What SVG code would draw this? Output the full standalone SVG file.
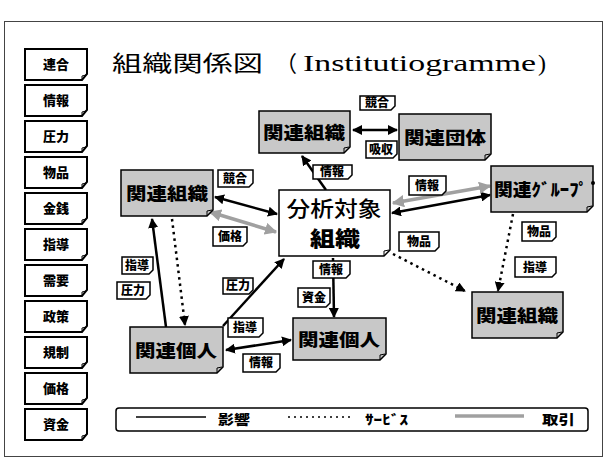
<svg xmlns="http://www.w3.org/2000/svg" width="608" height="460" viewBox="0 0 608 460">
<style>
.frame{fill:#fff;stroke:#444;stroke-width:1}
.tag{fill:#fff;stroke:#000;stroke-width:2}
.tagt{font-family:"Noto Sans CJK JP",sans-serif;font-weight:900;font-size:13px;text-anchor:middle;fill:#000}
.lab{fill:#fff;stroke:#000;stroke-width:1.5}
.labt{font-family:"Noto Sans CJK JP",sans-serif;font-weight:900;font-size:12px;text-anchor:middle;fill:#000}
.legt{font-family:"Noto Sans CJK JP",sans-serif;font-weight:900;font-size:13px;fill:#000}
.node{fill:#c8c8c8;stroke:#000;stroke-width:1.5}
.nodew{fill:#fff;stroke:#000;stroke-width:1.5}
.nt{font-family:"Noto Sans CJK JP",sans-serif;font-weight:900;font-size:17px;text-anchor:middle;fill:#000}
.curl{fill:none;stroke:#000;stroke-width:1}
.inf{fill:none;stroke:#000;stroke-width:2.5}
.svc{fill:none;stroke:#000;stroke-width:2.5;stroke-dasharray:2.5 4}
.trd{fill:none;stroke:#a0a0a0;stroke-width:3.5}
</style>
<defs>
<marker id="ab" viewBox="0 0 10 10" refX="9" refY="5" markerWidth="4" markerHeight="4" orient="auto-start-reverse" markerUnits="strokeWidth"><path d="M0,0 L10,5 L0,10 Z" fill="#000"/></marker>
<marker id="ag" viewBox="0 0 10 10" refX="9" refY="5" markerWidth="3.5" markerHeight="3.5" orient="auto-start-reverse" markerUnits="strokeWidth"><path d="M0,0 L10,5 L0,10 Z" fill="#a0a0a0"/></marker>
</defs>
<rect class="frame" x="4.5" y="21.5" width="598" height="435"/>

<text x="112" y="71" font-family="Noto Sans CJK JP,sans-serif" font-size="22" textLength="151" lengthAdjust="spacingAndGlyphs">組織関係図</text>
<text x="275" y="71" font-family="Noto Sans CJK JP,sans-serif" font-size="22">（</text>
<text x="303" y="71" font-family="Liberation Serif,serif" font-size="24" textLength="233" lengthAdjust="spacingAndGlyphs">Institutiogramme</text>
<text x="538" y="71" font-family="Liberation Serif,serif" font-size="24">)</text>

<g id="side-tags">
<g id="t1"><path class="tag" d="M25,49 H87 V74 L82,80 H25 Z"/><path class="curl" d="M82,80 L82,76 L86,75"/><text class="tagt" x="56" y="69">連合</text></g>
<g id="t2"><path class="tag" d="M25,85 H87 V110 L82,116 H25 Z"/><path class="curl" d="M82,116 L82,112 L86,111"/><text class="tagt" x="56" y="105">情報</text></g>
<g id="t3"><path class="tag" d="M25,121 H87 V146 L82,152 H25 Z"/><path class="curl" d="M82,152 L82,148 L86,147"/><text class="tagt" x="56" y="141">圧力</text></g>
<g id="t4"><path class="tag" d="M25,157 H87 V182 L82,188 H25 Z"/><path class="curl" d="M82,188 L82,184 L86,183"/><text class="tagt" x="56" y="177">物品</text></g>
<g id="t5"><path class="tag" d="M25,193 H87 V218 L82,224 H25 Z"/><path class="curl" d="M82,224 L82,220 L86,219"/><text class="tagt" x="56" y="213">金銭</text></g>
<g id="t6"><path class="tag" d="M25,229 H87 V254 L82,260 H25 Z"/><path class="curl" d="M82,260 L82,256 L86,255"/><text class="tagt" x="56" y="249">指導</text></g>
<g id="t7"><path class="tag" d="M25,265 H87 V290 L82,296 H25 Z"/><path class="curl" d="M82,296 L82,292 L86,291"/><text class="tagt" x="56" y="285">需要</text></g>
<g id="t8"><path class="tag" d="M25,301 H87 V326 L82,332 H25 Z"/><path class="curl" d="M82,332 L82,328 L86,327"/><text class="tagt" x="56" y="321">政策</text></g>
<g id="t9"><path class="tag" d="M25,337 H87 V362 L82,368 H25 Z"/><path class="curl" d="M82,368 L82,364 L86,363"/><text class="tagt" x="56" y="357">規制</text></g>
<g id="t10"><path class="tag" d="M25,373 H87 V398 L82,404 H25 Z"/><path class="curl" d="M82,404 L82,400 L86,399"/><text class="tagt" x="56" y="393">価格</text></g>
<g id="t11"><path class="tag" d="M25,409 H87 V434 L82,440 H25 Z"/><path class="curl" d="M82,440 L82,436 L86,435"/><text class="tagt" x="56" y="429">資金</text></g>
</g>

<g id="connectors">
<line class="inf" x1="353" y1="130" x2="397" y2="130" marker-start="url(#ab)" marker-end="url(#ab)"/>
<line class="inf" x1="326" y1="190" x2="302" y2="156" marker-end="url(#ab)"/>
<line class="inf" x1="277" y1="214" x2="215" y2="197" marker-start="url(#ab)" marker-end="url(#ab)"/>
<line class="trd" x1="276" y1="232" x2="210" y2="212" marker-start="url(#ag)" marker-end="url(#ag)"/>
<line class="svc" x1="172" y1="219" x2="185" y2="325" marker-end="url(#ab)"/>
<line class="inf" x1="166" y1="327" x2="152" y2="219" marker-end="url(#ab)"/>
<line class="inf" x1="223" y1="326" x2="284" y2="259" marker-end="url(#ab)"/>
<line class="inf" x1="226" y1="350" x2="291" y2="340" marker-start="url(#ab)" marker-end="url(#ab)"/>
<line class="inf" x1="333" y1="258" x2="334" y2="317" marker-end="url(#ab)"/>
<line class="inf" x1="392" y1="213" x2="490" y2="195" marker-start="url(#ab)" marker-end="url(#ab)"/>
<line class="trd" x1="393" y1="203" x2="490" y2="186" marker-start="url(#ag)" marker-end="url(#ag)"/>
<line class="svc" x1="393" y1="254" x2="465" y2="291" marker-end="url(#ab)"/>
<line class="svc" x1="513" y1="214" x2="498" y2="291" marker-end="url(#ab)"/>
</g>

<g id="labels">
<g><path class="lab" d="M360,96 H395 V106 L391,110 H360 Z"/><text class="labt" x="377" y="107">競合</text></g>
<g><path class="lab" d="M366,141 H397 V154 L393,158 H366 Z"/><text class="labt" x="381" y="154">吸収</text></g>
<g><path class="lab" d="M313,165 H352 V175 L348,179 H313 Z"/><text class="labt" x="332" y="176">情報</text></g>
<g><path class="lab" d="M218,170 H253 V183 L249,187 H218 Z"/><text class="labt" x="235" y="183">競合</text></g>
<g><path class="lab" d="M213,227 H247 V242 L243,246 H213 Z"/><text class="labt" x="230" y="241">価格</text></g>
<g><path class="lab" d="M122,257 H153 V270 L149,274 H122 Z"/><text class="labt" x="137" y="270">指導</text></g>
<g><path class="lab" d="M117,282 H150 V295 L146,299 H117 Z"/><text class="labt" x="133" y="295">圧力</text></g>
<g><path class="lab" d="M223,278 H253 V290 L249,294 H223 Z"/><text class="labt" x="238" y="290">圧力</text></g>
<g><path class="lab" d="M228,318 H263 V333 L259,337 H228 Z"/><text class="labt" x="245" y="332">指導</text></g>
<g><path class="lab" d="M243,354 H280 V368 L276,372 H243 Z"/><text class="labt" x="261" y="367">情報</text></g>
<g><path class="lab" d="M313,261 H350 V274 L346,278 H313 Z"/><text class="labt" x="331" y="274">情報</text></g>
<g><path class="lab" d="M298,288 H330 V303 L326,307 H298 Z"/><text class="labt" x="314" y="302">資金</text></g>
<g><path class="lab" d="M409,176 H446 V191 L442,195 H409 Z"/><text class="labt" x="427" y="190">情報</text></g>
<g><path class="lab" d="M399,232 H439 V247 L435,251 H399 Z"/><text class="labt" x="419" y="246">物品</text></g>
<g><path class="lab" d="M522,222 H556 V237 L552,241 H522 Z"/><text class="labt" x="539" y="236">物品</text></g>
<g><path class="lab" d="M515,257 H556 V273 L552,277 H515 Z"/><text class="labt" x="535" y="272">指導</text></g>
</g>

<g id="n-top-org"><path class="node" d="M259,111 H350 V147 L344,153 H259 Z"/><path class="curl" d="M344,153 L344,148 L349,147"/><text class="nt" x="304" y="139" textLength="82" lengthAdjust="spacingAndGlyphs">関連組織</text></g>
<g id="n-dantai"><path class="node" d="M399,114 H491 V154 L485,160 H399 Z"/><path class="curl" d="M485,160 L485,155 L490,154"/><text class="nt" x="445" y="144" textLength="82" lengthAdjust="spacingAndGlyphs">関連団体</text></g>
<g id="n-left-org"><path class="node" d="M121,170 H213 V210 L207,216 H121 Z"/><path class="curl" d="M207,216 L207,211 L212,210"/><text class="nt" x="167" y="200" textLength="82" lengthAdjust="spacingAndGlyphs">関連組織</text></g>
<g id="n-center"><path class="nodew" d="M279,190 H390 V250 L384,256 H279 Z"/><path class="curl" d="M384,256 L384,251 L389,250"/><text x="334" y="216" font-family="Noto Sans CJK JP,sans-serif" font-size="21" font-weight="500" text-anchor="middle" textLength="95" lengthAdjust="spacingAndGlyphs">分析対象</text><text x="335" y="246" font-family="Noto Sans CJK JP,sans-serif" font-size="21" font-weight="900" text-anchor="middle" textLength="50" lengthAdjust="spacingAndGlyphs">組織</text></g>
<g id="n-group"><path class="node" d="M491,166 H593 V206 L587,212 H491 Z"/><path class="curl" d="M587,212 L587,207 L592,206"/><circle cx="593" cy="183" r="2" fill="#000"/><text class="nt" x="541" y="196" textLength="94" lengthAdjust="spacingAndGlyphs">関連ｸﾞﾙｰﾌﾟ</text></g>
<g id="n-right-org"><path class="node" d="M472,292 H563 V332 L557,338 H472 Z"/><path class="curl" d="M557,338 L557,333 L562,332"/><text class="nt" x="517" y="322" textLength="82" lengthAdjust="spacingAndGlyphs">関連組織</text></g>
<g id="n-person-left"><path class="node" d="M130,327 H223 V367 L217,373 H130 Z"/><path class="curl" d="M217,373 L217,368 L222,367"/><text class="nt" x="176" y="357" textLength="82" lengthAdjust="spacingAndGlyphs">関連個人</text></g>
<g id="n-person-right"><path class="node" d="M293,318 H386 V354 L380,360 H293 Z"/><path class="curl" d="M380,360 L380,355 L385,354"/><text class="nt" x="339" y="346" textLength="82" lengthAdjust="spacingAndGlyphs">関連個人</text></g>

<g id="legend">
<path d="M119,408 H585 Q588,408 588,411 V428 Q588,431 585,431 H119 Q116,431 116,428 V411 Q116,408 119,408 Z" fill="#fff" stroke="#000" stroke-width="1.5"/>
<line x1="136" y1="417" x2="206" y2="417" stroke="#000" stroke-width="1.5"/>
<text class="legt" x="218" y="424" textLength="32" lengthAdjust="spacingAndGlyphs">影響</text>
<line x1="288" y1="417" x2="353" y2="417" stroke="#000" stroke-width="1.5" stroke-dasharray="2 4"/>
<text class="legt" x="365" y="424" textLength="43" lengthAdjust="spacingAndGlyphs">ｻｰﾋﾞｽ</text>
<line x1="455" y1="416" x2="524" y2="416" stroke="#a0a0a0" stroke-width="3.5"/>
<text class="legt" x="542" y="424" textLength="33" lengthAdjust="spacingAndGlyphs">取引</text>
</g>
</svg>
